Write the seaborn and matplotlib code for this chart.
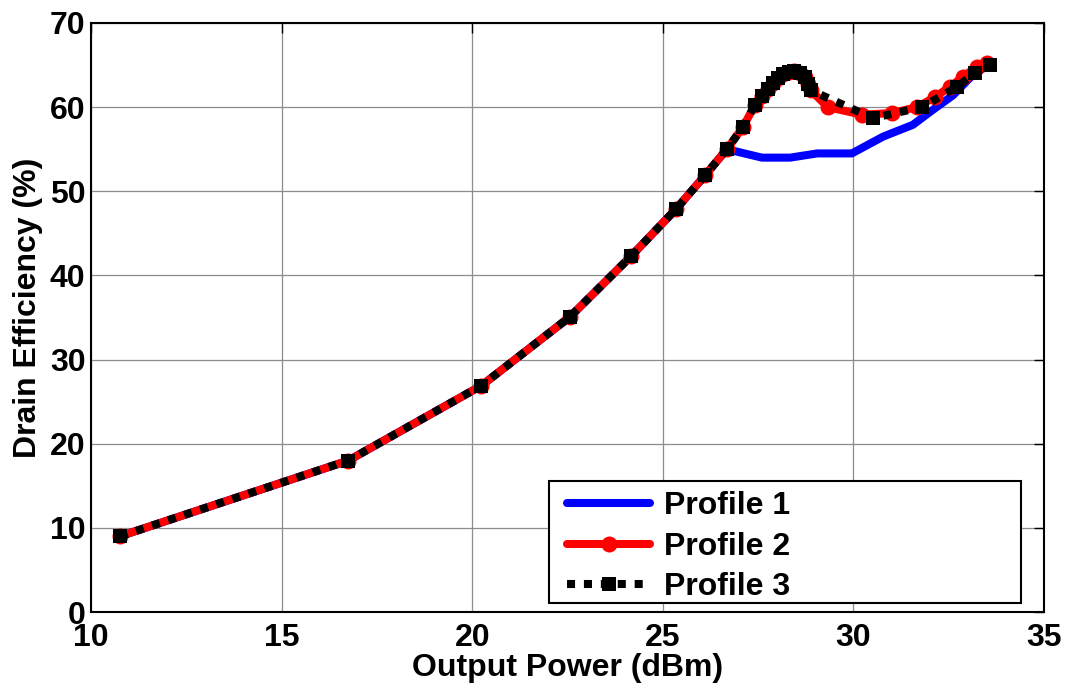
import matplotlib
matplotlib.use("Agg")
import matplotlib.pyplot as plt
from matplotlib.patches import Rectangle
import seaborn as sns
import pandas as pd

# Drain efficiency versus output power for three load profiles
p1_pout = [10.76, 16.75, 20.24, 22.57, 24.17, 25.35, 26.11, 26.68,
           27.60, 28.34, 29.05, 29.96, 30.78, 31.56, 32.09, 32.61, 33.19, 33.58]
p1_eff = [9.0, 18.0, 26.9, 35.1, 42.3, 47.9, 51.9, 55.0,
          54.0, 54.0, 54.5, 54.5, 56.5, 57.9, 59.7, 61.4, 64.1, 65.0]

p2_pout = [10.76, 16.75, 20.24, 22.57, 24.17, 25.35, 26.11, 26.68, 27.10, 27.42,
           27.60, 27.75, 27.88, 28.02, 28.15, 28.30, 28.45, 28.60, 28.72, 28.82, 28.88,
           29.33, 30.23, 31.01, 31.67, 32.14, 32.53, 32.87, 33.24, 33.50]
p2_eff = [9.0, 18.0, 26.9, 35.1, 42.3, 47.9, 51.9, 55.0, 57.6, 60.3,
          61.3, 62.2, 62.9, 63.5, 63.9, 64.2, 64.3, 64.1, 63.6, 62.8, 62.0,
          60.0, 59.1, 59.3, 60.0, 61.2, 62.4, 63.6, 64.8, 65.3]

p3_pout = [10.76, 16.75, 20.24, 22.57, 24.17, 25.35, 26.11, 26.68, 27.10, 27.42,
           27.60, 27.75, 27.88, 28.02, 28.15, 28.30, 28.45, 28.60, 28.72, 28.82, 28.88,
           30.51, 31.80, 32.72, 33.19, 33.58]
p3_eff = [9.0, 18.0, 26.9, 35.1, 42.3, 47.9, 51.9, 55.0, 57.6, 60.3,
          61.3, 62.2, 62.9, 63.5, 63.9, 64.2, 64.3, 64.1, 63.6, 62.8, 62.0,
          58.7, 60.0, 62.4, 64.1, 65.0]

x_ticks = [10, 15, 20, 25, 30, 35]
y_ticks = [0, 10, 20, 30, 40, 50, 60, 70]

sns.set_style("white")
plt.rcParams["font.family"] = ["Liberation Sans", "DejaVu Sans"]
plt.rcParams["font.weight"] = "bold"
plt.rcParams["axes.labelweight"] = "bold"
for key in ("text.color", "axes.labelcolor", "xtick.color", "ytick.color"):
    plt.rcParams[key] = "black"
FS = 23

fig = plt.figure(figsize=(10.65, 6.84), dpi=100)
ax = fig.add_axes([91 / 1065, 72 / 684, 953 / 1065, 589 / 684])

d1 = pd.DataFrame({"x": p1_pout, "y": p1_eff})
d2 = pd.DataFrame({"x": p2_pout, "y": p2_eff})
d3 = pd.DataFrame({"x": p3_pout, "y": p3_eff})

sns.lineplot(data=d1, x="x", y="y", ax=ax, sort=False, color="#0000ff",
             lw=5.8, label="Profile 1", zorder=3)
sns.lineplot(data=d2, x="x", y="y", ax=ax, sort=False, color="#ff0000",
             lw=5.8, marker="o", markersize=11.5, markeredgewidth=0,
             label="Profile 2", zorder=4)
sns.lineplot(data=d3, x="x", y="y", ax=ax, sort=False, color="black",
             lw=5.8, marker="s", markersize=10, markeredgewidth=0,
             dashes=False, label="Profile 3", zorder=5)
line3 = ax.get_lines()[2]
line3.set_dashes((1, 1.1))
line3.set_dash_capstyle("butt")

ax.set_xlim(10, 35)
ax.set_ylim(0, 70)
ax.set_xticks(x_ticks)
ax.set_yticks(y_ticks)
ax.set_xticklabels([str(v) for v in x_ticks], fontsize=FS, fontweight="bold")
ax.set_yticklabels([str(v) for v in y_ticks], fontsize=FS, fontweight="bold")
ax.tick_params(direction="in", length=7, width=1, top=True, right=True,
               color="black")
ax.tick_params(axis="x", pad=8)
ax.tick_params(axis="y", pad=4)
ax.grid(True, color="#8c8c8c", lw=0.9)
ax.set_axisbelow(True)
for s in ax.spines.values():
    s.set_color("black")
    s.set_linewidth(1.5)

ax.set_xlabel("Output Power (dBm)", fontsize=FS, fontweight="bold", labelpad=0)
ax.set_ylabel("Drain Efficiency (%)", fontsize=FS, fontweight="bold")
ax.yaxis.set_label_coords(-0.0504, 0.516)

# Legend: framed box drawn separately so the entries sit at the left of a wide box
box = Rectangle((0.4806, 0.0153), 0.4953, 0.2071, transform=ax.transAxes,
                facecolor="white", edgecolor="black", lw=1.5, zorder=8)
ax.add_patch(box)
handles, labels = ax.get_legend_handles_labels()
leg = ax.legend(handles, labels, loc="lower left",
                bbox_to_anchor=(0.4995, 0.0163), borderaxespad=0, borderpad=0,
                prop={"weight": "bold", "size": FS},
                handlelength=2.6, handletextpad=0.45, labelspacing=0.33,
                frameon=False)
leg.set_zorder(9)
leg.legend_handles[2].set_dashes((1, 1.1))

fig.savefig("out.png", dpi=100)
